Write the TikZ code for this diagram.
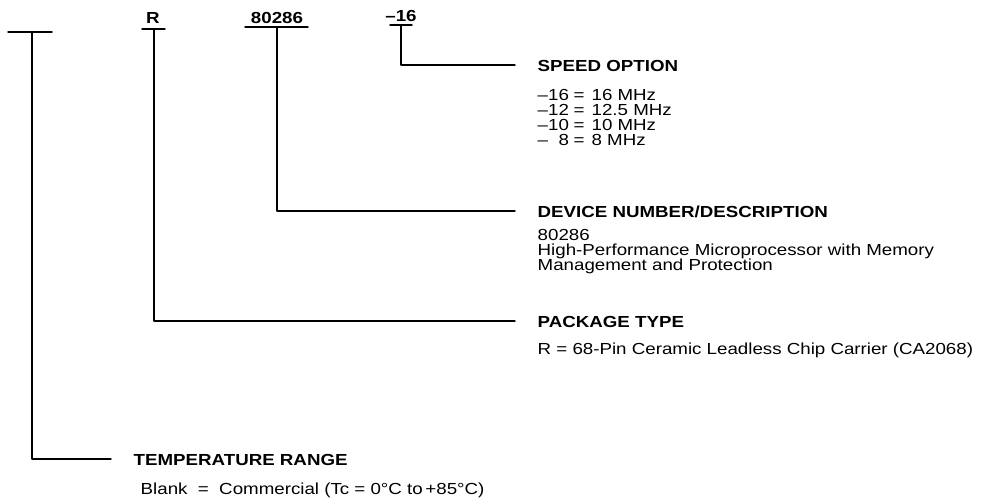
\documentclass[tikz,border=0pt]{standalone}
\usepackage{fontspec}
\setmainfont{Liberation Sans}[FakeStretch=1.17]
\usetikzlibrary{positioning}
\newcommand\spdrow[2]{\makebox[34pt][l]{#1}\hspace{2pt}=\hspace{7pt}#2}
\begin{document}
\lineskiplimit=-20pt\relax
\begin{tikzpicture}[x=1pt,y=-1pt,line join=round,line cap=round,line width=1.4pt,
	code/.style={font=\fontsize{16}{15}\selectfont\bfseries,anchor=base,inner sep=0pt},
	head/.style={font=\fontsize{16}{15}\selectfont\bfseries,anchor=base west,inner sep=0pt},
	desc/.style={font=\fontsize{16}{15}\selectfont,anchor=base west,inner sep=0pt,align=left}]
	\useasboundingbox (0,0) rectangle (989,501);
	\def\gap{22}
	% cac truong cua ma san pham
	\coordinate (tbar) at (32,32);
	\draw (8,32)--(52,32);
	\node[code] (r) at (153,23) {R};
	\coordinate (rbar) at (154,29);
	\draw (142,29)--(165,29);
	\node[code] (dev) at (277,23) {80286};
	\coordinate (devbar) at (277,27);
	\draw (245,27)--(308,27);
	\node[code] (spd) at (401,21) {--16};
	\coordinate (spdbar) at (401,25);
	\draw (390,25)--(412,25);
	% muc giai thich (base = dong cuoi)
	\node[head] (speed) at (537,71) {SPEED OPTION};
	\node[desc] (speedlist) at (537,145) {\spdrow{--16}{16 MHz}\\ \spdrow{--12}{12.5 MHz}\\
		\spdrow{--10}{10 MHz}\\ \spdrow{--\hphantom{1}8}{8 MHz}};
	\node[head] (device) at (537,217) {DEVICE NUMBER/DESCRIPTION};
	\node[desc] (devtext) at (537,270) {80286\\High-Performance Microprocessor with Memory\\Management and Protection};
	\node[head] (pkg) at (537,327) {PACKAGE TYPE};
	\node[desc] (pkgtext) at (537,354) {R = 68-Pin Ceramic Leadless Chip Carrier (CA2068)};
	\node[head] (temp) at (133,465) {TEMPERATURE RANGE};
	\node[desc] (temptext) at (140,494) {Blank \ = \ Commercial (Tc = 0°C to\,+85°C)};
	% duong noi
	\draw (spdbar) |- ([xshift=-\gap,yshift=6pt]speed.base west);
	\draw (devbar) |- ([xshift=-\gap,yshift=6pt]device.base west);
	\draw (rbar) |- ([xshift=-\gap,yshift=6pt]pkg.base west);
	\draw (tbar) |- ([xshift=-\gap,yshift=6pt]temp.base west);
\end{tikzpicture}
\end{document}
